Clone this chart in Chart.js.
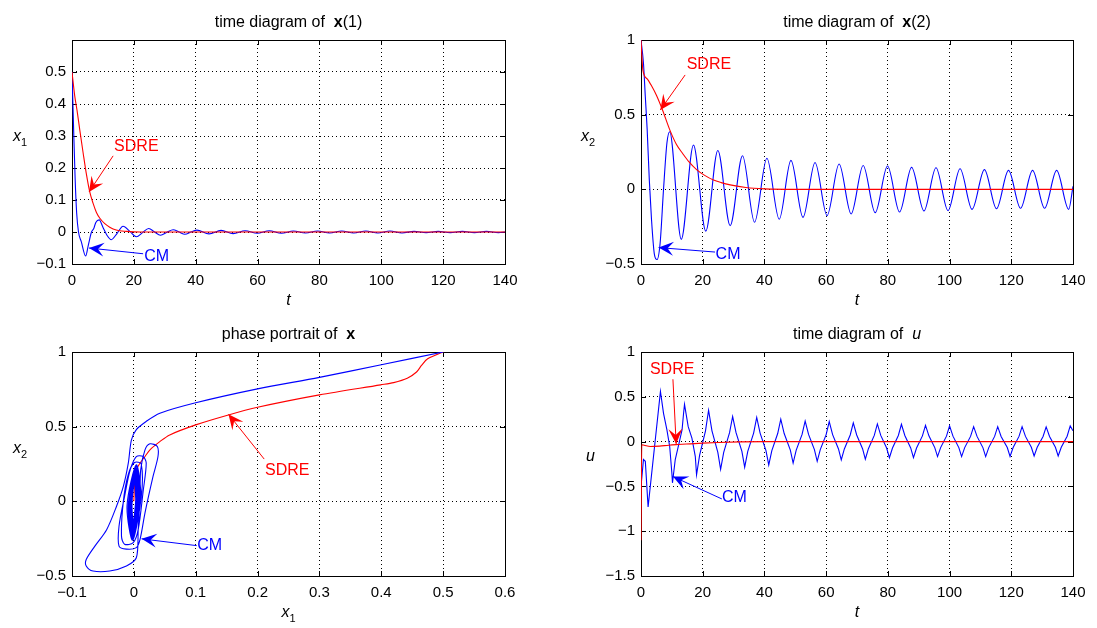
<!DOCTYPE html>
<html>
<head>
<meta charset="utf-8">
<script src="https://cdn.jsdelivr.net/npm/chart.js@4.4.1/dist/chart.umd.min.js"></script>
<style>
  body { margin: 0; background: #fff; }
  #wrap { position: relative; width: 1097px; height: 628px; }
  canvas { position: absolute; left: 0; top: 0; }
</style>
</head>
<body>
<div id="wrap">
  <canvas id="cX1" width="1097" height="628"></canvas>
  <canvas id="cX2" width="1097" height="628"></canvas>
  <canvas id="cPhase" width="1097" height="628"></canvas>
  <canvas id="cU" width="1097" height="628"></canvas>
</div>
<script>
// ---- data ----

// x(1) vs t
const tX1Sdre = [0, 0.9, 1.6, 2.5, 3.6, 4.6, 5.7, 6.8, 7.9, 9, 10.6, 12.2, 14.3, 17.6, 22, 140];
const x1Sdre = [0.5, 0.424, 0.382, 0.32, 0.247, 0.184, 0.127, 0.09, 0.061, 0.043, 0.026, 0.015, 0.006, 0.002, 0, 0];
const tX1Cm = [
    0, 0.5, 1, 1.5, 2.1, 3, 4.4, 5.3, 6.3, 7, 7.7, 8.8, 10, 11.3, 12.7,
    14.6, 16.5, 18.7, 20.8, 22.8, 24.8, 26.7, 28.6, 30.7, 32.7, 34.6, 36.5, 38.5, 40.4,
    44.3, 48.2, 52.1, 56, 59.9, 63.8, 67.7, 71.6, 75.5, 79.4, 83.3, 87.2, 91.1, 95,
    98.9, 102.8, 106.7, 110.6, 114.5, 118.4, 122.3, 126.2, 130.1, 134, 137.9, 140,
];
const x1Cm = [
    0.5, 0.33, 0.17, 0.06, 0, -0.03, -0.075, -0.04, 0, 0.01, 0.03, 0.038, 0.015, -0.01, -0.024,
    -0.004, 0.018, 0.002, -0.015, -0.002, 0.011, 0, -0.01, -0.001, 0.007, 0, -0.007, 0, 0.006,
    -0.006, 0.005, -0.005, 0.004, -0.004, 0.004, -0.004, 0.003, -0.003, 0.003, -0.003, 0.003, -0.003, 0.003,
    -0.003, 0.003, -0.003, 0.002, -0.002, 0.002, -0.002, 0.002, -0.002, 0.002, -0.002, 0,
];

// x(2) vs t
const tX2Sdre = [0, 0.6, 2, 3.5, 5, 7, 9.3, 11.5, 13.5, 15.5, 18.1, 20.5, 23.5, 26, 28.9, 34, 40, 50, 140];
const x2Sdre = [1, 0.8, 0.74, 0.69, 0.63, 0.53, 0.4, 0.3, 0.24, 0.185, 0.13, 0.095, 0.062, 0.045, 0.03, 0.012, 0.003, 0, 0];
const tX2Cm = [
    0, 0.8, 1.4, 2, 2.7, 3.4, 4.3, 5.2, 6.2, 7.3, 8.4, 9.3,
    13.05, 17, 21, 24.9, 28.9, 32.9, 36.8, 40.8, 44.8, 48.6, 52.5, 56.4, 60.3, 64.2, 68.1,
    72, 75.9, 79.9, 83.8, 87.7, 91.7, 95.6, 99.5, 103.4, 107.3, 111.3, 115.2, 119.1,
    123, 126.9, 130.8, 134.7, 138.6, 140,
];
const x2Cm = [
    1, 0.844, 0.62, 0.4, 0.06, -0.2, -0.43, -0.47, -0.36, 0, 0.31, 0.386,
    -0.335, 0.297, -0.28, 0.26, -0.243, 0.225, -0.22, 0.208, -0.2, 0.194, -0.188, 0.18, -0.176, 0.17, -0.165,
    0.16, -0.156, 0.156, -0.152, 0.147, -0.145, 0.145, -0.143, 0.138, -0.134, 0.132, -0.13, 0.127,
    -0.127, 0.127, -0.127, 0.127, -0.134, 0.02,
];

// phase portrait (x1, x2)
const phSdreX1 = [0.5, 0.475, 0.465, 0.457, 0.442, 0.42, 0.399, 0.3, 0.2, 0.15, 0.1, 0.058, 0.042, 0.026, 0.018, 0.01, 0.004, 0.001, 0];
const phSdreX2 = [1, 0.955, 0.91, 0.866, 0.824, 0.795, 0.78, 0.713, 0.63, 0.575, 0.512, 0.445, 0.4, 0.345, 0.3, 0.256, 0.21, 0.1, 0];
const phCmX1 = [
    0.5, 0.4, 0.3, 0.2, 0.1, 0.042, 0.02, 0.004, -0.004,
    -0.009, -0.017, -0.028, -0.044, -0.063, -0.077, -0.077, -0.066, -0.039, -0.012, 0.004,
    0.007, 0.01, 0.011, 0.018, 0.026, 0.038, 0.039, 0.031, 0.018, 0.01, 0.004,
    -0.012, -0.024, -0.024, -0.015, -0.006, 0.004, 0.015, 0.02, 0.015, 0.007, -0.001,
    -0.015, -0.02, -0.017, -0.009, 0.001, 0.012,
    0.012, -0.002, -0.011, 0.004,
    0.011, -0.002, -0.009, 0.004,
    0.01, -0.002, -0.008, 0.003,
    0.009, -0.002, -0.007, 0.003,
    0.008, -0.002, -0.006, 0.003,
    0.007, -0.001, -0.005, 0.002,
    0.006, -0.001, -0.005, 0.002,
    0.006, -0.001, -0.004, 0.002,
    0.005, -0.001, -0.004, 0.002,
    0.005, -0.001, -0.004, 0.002,
    0.004, -0.001, -0.003, 0.001,
    0.004, -0.001, -0.003, 0.001,
    0.004, -0.001, -0.003, 0.001,
    0.003, -0.001, -0.003, 0.001,
    0.003,
];
const phCmX2 = [
    1, 0.915, 0.83, 0.753, 0.66, 0.59, 0.535, 0.48, 0.41,
    0.256, 0.1, -0.033, -0.19, -0.3, -0.39, -0.433, -0.467, -0.467, -0.433, -0.378,
    -0.19, 0.033, 0.21, 0.345, 0.385, 0.367, 0.3, 0.167, -0.077, -0.255, -0.31,
    -0.32, -0.3, -0.167, 0.033, 0.21, 0.3, 0.3, 0.256, 0.067, -0.19, -0.277,
    -0.287, -0.233, 0, 0.18, 0.26, 0.25,
    0.03, -0.26, -0.03, 0.245,
    0.03, -0.25, -0.03, 0.235,
    0.03, -0.24, -0.03, 0.225,
    0.03, -0.23, -0.03, 0.215,
    0.02, -0.22, -0.03, 0.205,
    0.02, -0.21, -0.02, 0.195,
    0.02, -0.2, -0.02, 0.185,
    0.02, -0.19, -0.02, 0.175,
    0.02, -0.18, -0.02, 0.165,
    0.02, -0.17, -0.02, 0.155,
    0.02, -0.16, -0.02, 0.148,
    0.01, -0.15, -0.01, 0.14,
    0.01, -0.142, -0.01, 0.133,
    0.01, -0.136, -0.01, 0.128,
    0.02,
];

// u vs t
const tUSdre = [0, 0.25, 1, 3, 6, 9, 12, 16, 20, 25, 32, 40, 140];
const uSdre = [-1.1, -0.035, -0.04, -0.055, -0.05, -0.04, -0.033, -0.025, -0.017, -0.01, -0.003, 0, 0];
const tUCm = [
    0, 0.8, 1.4, 2.3, 6.3, 7.3, 8.4, 9.3, 10.0, 10.2,
    11.1, 12.2, 13.3, 13.8, 14.1, 15.3, 16.5, 17.6, 18.0,
    19.0, 20.9, 21.9, 23.0, 24.9, 25.8,
    26.8, 28.7, 29.7, 30.8, 32.7, 33.6,
    34.6, 36.5, 37.5, 38.6, 40.5, 41.4,
    42.4, 44.3, 45.3, 46.4, 48.4, 49.3,
    50.3, 52.2, 53.2, 54.3, 56.2, 57.1,
    58.1, 60.0, 61.0, 62.1, 64.0, 64.9,
    65.9, 67.8, 68.8, 69.9, 71.8, 72.7,
    73.7, 75.6, 76.6, 77.7, 79.6, 80.5,
    81.5, 83.4, 84.4, 85.5, 87.4, 88.3,
    89.3, 91.2, 92.2, 93.3, 95.2, 96.1,
    97.1, 99.0, 100.0, 101.1, 103.0, 103.9,
    104.9, 106.8, 107.8, 108.9, 110.8, 111.7,
    112.7, 114.6, 115.6, 116.7, 118.7, 119.6,
    120.6, 122.5, 123.5, 124.6, 126.5, 127.4,
    128.4, 130.3, 131.3, 132.4, 134.3, 135.2,
    136.2, 138.1, 139.1, 140,
];
const uCm = [
    -0.5, -0.2, -0.22, -0.73, 0.56, 0.316, 0.13, -0.055, -0.35, -0.46,
    -0.2, -0.037, 0.13, 0.316, 0.415, 0.167, 0.038, -0.167, -0.37,
    -0.15, 0.12, 0.35, 0.12, -0.12, -0.31,
    -0.12, 0.1, 0.28, 0.1, -0.11, -0.285,
    -0.11, 0.095, 0.27, 0.095, -0.1, -0.26,
    -0.1, 0.09, 0.25, 0.09, -0.095, -0.24,
    -0.095, 0.08, 0.23, 0.08, -0.09, -0.22,
    -0.09, 0.078, 0.223, 0.078, -0.082, -0.205,
    -0.082, 0.074, 0.21, 0.074, -0.079, -0.197,
    -0.079, 0.069, 0.197, 0.069, -0.072, -0.18,
    -0.072, 0.068, 0.193, 0.068, -0.071, -0.178,
    -0.071, 0.064, 0.182, 0.064, -0.067, -0.167,
    -0.067, 0.061, 0.175, 0.061, -0.067, -0.167,
    -0.067, 0.058, 0.167, 0.058, -0.067, -0.167,
    -0.067, 0.058, 0.167, 0.058, -0.066, -0.165,
    -0.066, 0.058, 0.167, 0.058, -0.064, -0.16,
    -0.064, 0.057, 0.164, 0.057, -0.064, -0.16,
    -0.064, 0.06, 0.175, 0.12,
];

// tick values
const tTicks = [0, 20, 40, 60, 80, 100, 120, 140];
const x1Ticks = [-0.1, 0, 0.1, 0.2, 0.3, 0.4, 0.5];
const x2Ticks = [-0.5, 0, 0.5, 1];
const phXTicks = [-0.1, 0, 0.1, 0.2, 0.3, 0.4, 0.5, 0.6];
const uTicks = [-1.5, -1, -0.5, 0, 0.5, 1];

// ---- helpers ----
const FONT = '"Liberation Sans", Arial, Helvetica, sans-serif';
const W = 1097;
const H = 628;
const RED = '#ff0000';
const BLUE = '#0000ff';

const fmt = (v) => {
    const r = Math.round(v * 100) / 100;
    return r === 0 ? '0' : String(r).replace('-', '\u2212');
};
const pts = (xs, ys) => xs.map((x, i) => ({ x, y: ys[i] }));

const line = (label, data, color, smooth) => ({
    label,
    data,
    showLine: true,
    borderColor: color,
    backgroundColor: color,
    borderWidth: 1.1,
    pointRadius: 0,
    fill: false,
    tension: smooth === 'curve' ? 0.3 : 0,
    cubicInterpolationMode: smooth === 'mono' ? 'monotone' : 'default',
});

const axis = (min, max, ticks, isX) => ({
    type: 'linear',
    position: isX ? 'bottom' : 'left',
    min,
    max,
    afterBuildTicks: (s) => { s.ticks = ticks.map((value) => ({ value })); },
    afterFit: (s) => { if (isX) s.height = 30; else s.width = 60; },
    grid: { color: '#000', lineWidth: 1, drawTicks: false },
    border: { display: false, dash: [1, 3] },
    ticks: {
        color: '#000',
        font: { family: FONT, size: 15 },
        padding: isX ? 8 : 6,
        autoSkip: false,
        maxRotation: 0,
        callback: (v) => fmt(v),
    },
});

// text made of parts with different fonts: [text, font, dy]
const drawParts = (ctx, parts, x, y, align) => {
    let total = 0;
    parts.forEach(([t, f]) => { ctx.font = f; total += ctx.measureText(t).width; });
    let cx = align === 'center' ? x - total / 2 : x;
    ctx.textAlign = 'left';
    ctx.textBaseline = 'alphabetic';
    parts.forEach(([t, f, dy]) => {
        ctx.font = f;
        ctx.fillText(t, cx, y + (dy || 0));
        cx += ctx.measureText(t).width;
    });
};

const drawNote = (ctx, sx, sy, n) => {
    const px = (p) => [sx.getPixelForValue(p[0]), sy.getPixelForValue(p[1])];
    const [x0, y0] = px(n.from);
    const [x1, y1] = px(n.to);
    const [tx, ty] = px(n.at);
    ctx.strokeStyle = n.color;
    ctx.fillStyle = n.color;
    ctx.lineWidth = 1;
    ctx.beginPath();
    ctx.moveTo(x0, y0);
    ctx.lineTo(x1, y1);
    ctx.stroke();
    const len = Math.hypot(x1 - x0, y1 - y0);
    const dx = (x1 - x0) / len;
    const dy = (y1 - y0) / len;
    const L = 15;
    const hw = 7;
    ctx.beginPath();
    ctx.moveTo(x1, y1);
    ctx.lineTo(x1 - L * dx - hw * dy, y1 - L * dy + hw * dx);
    ctx.lineTo(x1 - 0.6 * L * dx, y1 - 0.6 * L * dy);
    ctx.lineTo(x1 - L * dx + hw * dy, y1 - L * dy - hw * dx);
    ctx.closePath();
    ctx.fill();
    ctx.font = `16px ${FONT}`;
    ctx.textAlign = 'center';
    ctx.textBaseline = 'middle';
    ctx.fillText(n.text, tx, ty);
};

const makeDecor = (spec) => ({
    id: 'decor',
    // frame and inner tick marks go under the curves, like in the figure
    beforeDatasetsDraw(chart) {
        const { ctx, chartArea: a, scales: { x, y } } = chart;
        ctx.save();
        ctx.setLineDash([]);
        ctx.strokeStyle = '#000';
        ctx.lineWidth = 1;
        ctx.beginPath();
        x.ticks.forEach((t) => {
            const p = Math.round(x.getPixelForValue(t.value)) + 0.5;
            ctx.moveTo(p, a.bottom); ctx.lineTo(p, a.bottom - 5);
            ctx.moveTo(p, a.top); ctx.lineTo(p, a.top + 5);
        });
        y.ticks.forEach((t) => {
            const p = Math.round(y.getPixelForValue(t.value)) + 0.5;
            ctx.moveTo(a.left, p); ctx.lineTo(a.left + 5, p);
            ctx.moveTo(a.right, p); ctx.lineTo(a.right - 5, p);
        });
        ctx.stroke();
        ctx.strokeRect(Math.round(a.left) + 0.5, Math.round(a.top) + 0.5,
            Math.round(a.right - a.left), Math.round(a.bottom - a.top));
        ctx.restore();
    },
    afterDraw(chart) {
        const { ctx, chartArea: a, scales: { x, y } } = chart;
        ctx.save();
        spec.notes.forEach((n) => drawNote(ctx, x, y, n));
        ctx.fillStyle = '#000';
        const mid = (a.left + a.right) / 2;
        drawParts(ctx, spec.title, mid, a.top - 13, 'center');
        drawParts(ctx, spec.xLabel, mid, a.bottom + 41, 'center');
        drawParts(ctx, spec.yLabel, spec.yLabelX, (a.top + a.bottom) / 2 + spec.yLabelDy, 'left');
        ctx.restore();
    },
});

const makeChart = (id, area, scales, datasets, spec) => new Chart(document.getElementById(id), {
    type: 'scatter',
    data: { datasets },
    options: {
        responsive: false,
        animation: false,
        events: [],
        layout: {
            padding: { left: area.l - 60, top: area.t, right: W - area.r, bottom: H - area.b - 30 },
        },
        scales,
        plugins: { legend: { display: false }, tooltip: { enabled: false }, title: { display: false } },
    },
    plugins: [makeDecor(spec)],
});

const reg = `16px ${FONT}`;
const bold = `bold 16px ${FONT}`;
const ital = `italic 16px ${FONT}`;
const sub = `11px ${FONT}`;

// ---- charts ----
makeChart('cX1', { l: 72, t: 40, r: 505, b: 264 }, {
    x: axis(0, 140, tTicks, true),
    y: axis(-0.1, 0.6, x1Ticks, false),
}, [
    line('SDRE', pts(tX1Sdre, x1Sdre), RED, 'mono'),
    line('CM', pts(tX1Cm, x1Cm), BLUE, 'mono'),
], {
    title: [['time diagram of  ', reg], ['x', bold], ['(1)', reg]],
    xLabel: [['t', ital]],
    yLabel: [['x', ital], ['1', sub, 5]],
    yLabelX: 13,
    yLabelDy: -11,
    notes: [
        { text: 'SDRE', color: RED, at: [20.8, 0.267], from: [13.3, 0.238], to: [5.5, 0.125] },
        { text: 'CM', color: BLUE, at: [27.4, -0.0756], from: [23, -0.068], to: [5.5, -0.05] },
    ],
});

makeChart('cX2', { l: 641, t: 40, r: 1073, b: 264 }, {
    x: axis(0, 140, tTicks, true),
    y: axis(-0.5, 1, x2Ticks, false),
}, [
    line('SDRE', pts(tX2Sdre, x2Sdre), RED, 'mono'),
    line('CM', pts(tX2Cm, x2Cm), BLUE, 'mono'),
], {
    title: [['time diagram of  ', reg], ['x', bold], ['(2)', reg]],
    xLabel: [['t', ital]],
    yLabel: [['x', ital], ['2', sub, 5]],
    yLabelX: 581,
    yLabelDy: -11,
    notes: [
        { text: 'SDRE', color: RED, at: [22.0, 0.833], from: [14.3, 0.766], to: [6.25, 0.531] },
        { text: 'CM', color: BLUE, at: [28.2, -0.437], from: [24, -0.42], to: [5.7, -0.39] },
    ],
});

makeChart('cPhase', { l: 72, t: 352, r: 505, b: 576 }, {
    x: axis(-0.1, 0.6, phXTicks, true),
    y: axis(-0.5, 1, x2Ticks, false),
}, [
    line('CM', pts(phCmX1, phCmX2), BLUE, 'curve'),
    line('SDRE', pts(phSdreX1, phSdreX2), RED, 'curve'),
], {
    title: [['phase portrait of  ', reg], ['x', bold]],
    xLabel: [['x', ital], ['1', sub, 5]],
    yLabel: [['x', ital], ['2', sub, 5]],
    yLabelX: 13,
    yLabelDy: -11,
    notes: [
        { text: 'SDRE', color: RED, at: [0.248, 0.208], from: [0.2107, 0.283], to: [0.153, 0.583] },
        { text: 'CM', color: BLUE, at: [0.1224, -0.297], from: [0.1016, -0.2967], to: [0.0125, -0.251] },
    ],
});

makeChart('cU', { l: 641, t: 352, r: 1073, b: 576 }, {
    x: axis(0, 140, tTicks, true),
    y: axis(-1.5, 1, uTicks, false),
}, [
    line('SDRE', pts(tUSdre, uSdre), RED, 'mono'),
    line('CM', pts(tUCm, uCm), BLUE, 'line'),
], {
    title: [['time diagram of  ', reg], ['u', ital]],
    xLabel: [['t', ital]],
    yLabel: [['u', ital]],
    yLabelX: 586,
    yLabelDy: -3,
    notes: [
        { text: 'SDRE', color: RED, at: [10.1, 0.807], from: [10.35, 0.696], to: [11.4, -0.026] },
        { text: 'CM', color: BLUE, at: [30.3, -0.62], from: [26.2, -0.64], to: [10.35, -0.39] },
    ],
});
</script>
</body>
</html>
